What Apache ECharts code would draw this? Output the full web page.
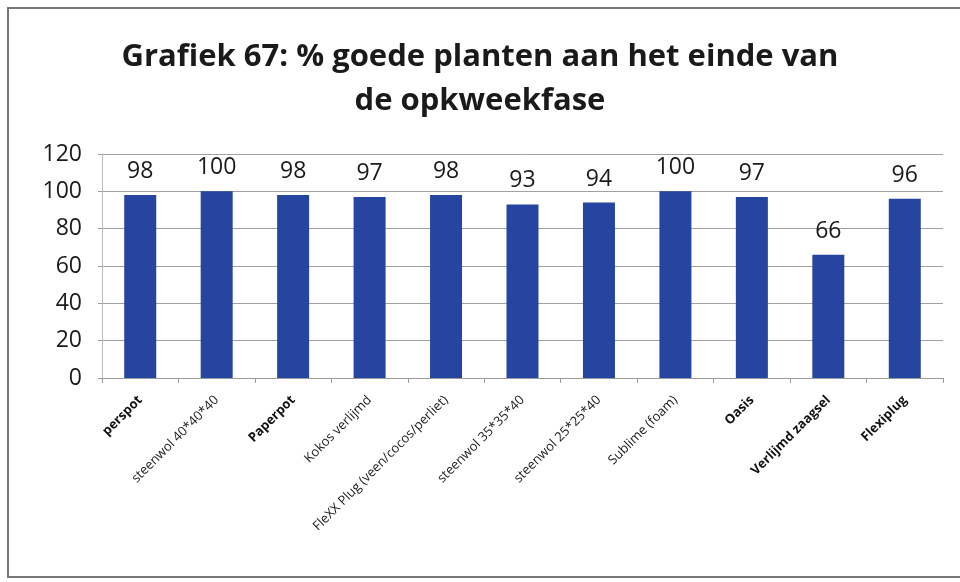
<!DOCTYPE html>
<html>
<head>
<meta charset="utf-8">
<script src="https://cdn.jsdelivr.net/npm/echarts@6/dist/echarts.min.js"></script>
<style>
  html, body { margin: 0; padding: 0; background: #fff; }
  #chart { width: 960px; height: 582px; }
</style>
</head>
<body>
<div id="chart"></div>
<script>
// Percentage of good plants per growing medium at the end of the raising phase
const categories = [
  'perspot', 'steenwol 40*40*40', 'Paperpot', 'Kokos verlijmd',
  'FleXX Plug (veen/cocos/perliet)', 'steenwol 35*35*40', 'steenwol 25*25*40',
  'Sublime (foam)', 'Oasis', 'Verlijmd zaagsel', 'Flexiplug'
];
const goodPlants = [98, 100, 98, 97, 98, 93, 94, 100, 97, 66, 96];
const yTicks = [0, 20, 40, 60, 80, 100, 120];

// categories whose axis label is printed in bold
const boldNames = ['perspot', 'Paperpot', 'Oasis', 'Verlijmd zaagsel', 'Flexiplug'];

const FONT = '"Open Sans", "Noto Sans", sans-serif';

const chart = echarts.init(document.getElementById('chart'), null, { renderer: 'canvas' });

chart.setOption({
  animation: false,
  backgroundColor: '#ffffff',
  title: {
    text: 'Grafiek 67: % goede planten aan het einde van\nde opkweekfase',
    left: 'center',
    top: 30,
    textStyle: {
      fontFamily: FONT,
      fontSize: 31,
      fontWeight: 'bold',
      color: '#1a1a1a',
      lineHeight: 44
    }
  },
  graphic: [{
    type: 'rect',
    shape: { x: 8, y: 8, width: 1000, height: 569 },
    style: { fill: null, stroke: '#777', lineWidth: 2 },
    silent: true
  }],
  grid: { left: 102, right: 17, top: 154, bottom: 204 },
  xAxis: {
    type: 'category',
    data: categories,
    axisLine: { lineStyle: { color: '#9a9a9a' } },
    axisTick: { show: true, alignWithLabel: false, length: 5, lineStyle: { color: '#9a9a9a' } },
    axisLabel: {
      interval: 0,
      rotate: 45,
      margin: 20,
      fontFamily: FONT,
      fontSize: 13,
      color: '#1a1a1a',
      formatter: function (v) {
        return boldNames.indexOf(v) >= 0 ? '{b|' + v + '}' : '{n|' + v + '}';
      },
      rich: {
        b: { fontWeight: 'bold', fontSize: 13, color: '#111', fontFamily: FONT },
        n: { fontWeight: 500, fontSize: 13, color: '#1a1a1a', fontFamily: FONT }
      }
    }
  },
  yAxis: {
    type: 'value',
    min: 0,
    max: 120,
    interval: 20,
    axisLine: { show: true, lineStyle: { color: '#bdbdbd' } },
    axisTick: { show: true, length: 4, lineStyle: { color: '#9a9a9a' } },
    splitLine: { lineStyle: { color: '#a0a0a0', width: 1 } },
    axisLabel: {
      margin: 20,
      fontFamily: FONT,
      fontSize: 23,
      color: '#1a1a1a',
      formatter: function (v) { return yTicks.indexOf(v) >= 0 ? String(v) : ''; }
    }
  },
  series: [{
    type: 'bar',
    data: goodPlants,
    barWidth: 32,
    itemStyle: { color: '#2645a0' },
    label: {
      show: true,
      position: 'top',
      distance: 12,
      fontFamily: FONT,
      fontSize: 23,
      color: '#1a1a1a'
    }
  }]
});
</script>
</body>
</html>
